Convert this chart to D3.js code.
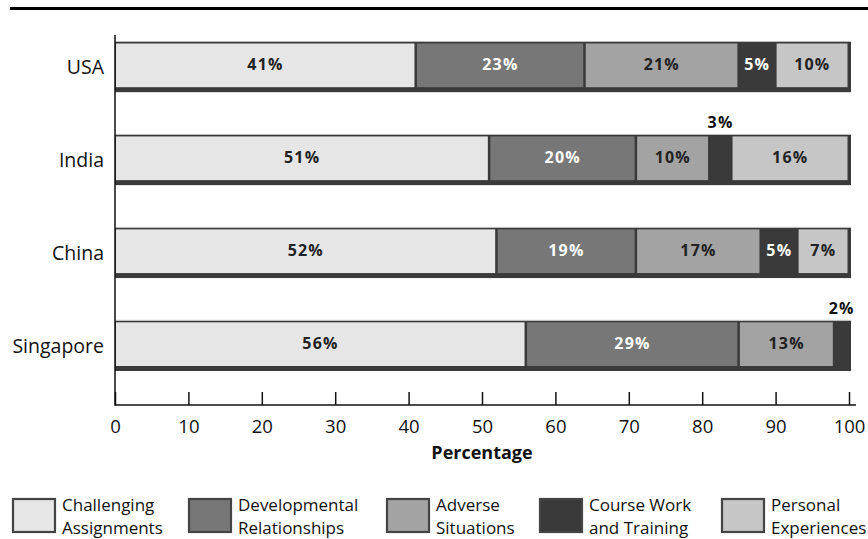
<!DOCTYPE html>
<html><head><meta charset="utf-8">
<script src="https://cdn.jsdelivr.net/npm/d3@7"></script>
<style>
html,body{margin:0;padding:0;background:#fff;}
svg{display:block;font-family:"Open Sans",sans-serif;}
</style></head>
<body><svg id="c" width="868" height="539"></svg>
<script>
const countries = ["USA","India","China","Singapore"];
const seriesNames = ["Challenging Assignments","Developmental Relationships","Adverse Situations","Course Work and Training","Personal Experiences"];
const legendLines = [["Challenging","Assignments"],["Developmental","Relationships"],["Adverse","Situations"],["Course Work","and Training"],["Personal","Experiences"]];
const challenging   = [41,51,52,56];
const developmental = [23,20,19,29];
const adverse       = [21,10,17,13];
const courseWork    = [5,3,5,2];
const personal      = [10,16,7,0];
const xTicks = [0,10,20,30,40,50,60,70,80,90,100];
const xTitle = "Percentage";

const colors = ["#e6e6e6","#777777","#a3a3a3","#3a3a3a","#c6c6c6"];
const labelColors = ["#222","#fff","#222","#fff","#222"];
const dark = "#3a3a3a";

const svg = d3.select("#c");
const x = d3.scaleLinear().domain([0,100]).range([115,849]);
const y = d3.scaleBand().domain(countries).range([42,371]).paddingInner(0.46).paddingOuter(0);
const bh = y.bandwidth();

// top rule
svg.append("rect").attr("x",10).attr("y",7).attr("width",858).attr("height",3).attr("fill","#000");

const rows = countries.map((c,i)=>{
  const vals=[challenging[i],developmental[i],adverse[i],courseWork[i],personal[i]];
  let s=0; const segs=vals.map((v,k)=>{const o={k,v,s}; s+=v; return o;});
  return {c,segs,total:s};
});

const g = svg.append("g");
rows.forEach(r=>{
  const top=y(r.c);
  const segs = r.segs.filter(d=>d.v>0);
  const end = segs[segs.length-1];
  const w = x(end.s+end.v)-x(0)+2;
  g.append("rect").attr("x",x(0)).attr("y",top).attr("width",w).attr("height",bh).attr("fill",dark);
  g.append("rect").attr("x",x(0)).attr("y",top-1).attr("width",w).attr("height",1).attr("fill","#bbb");
  segs.forEach(d=>{
    g.append("rect").attr("x",x(d.s)+1).attr("y",top+1.5).attr("width",Math.max(0,x(d.s+d.v)-x(d.s)-2.5))
      .attr("height",bh-6.5).attr("fill",colors[d.k]);
    const small = d.v<4;
    g.append("text").attr("x",x(d.s+d.v/2)).attr("y", small? top-7 : top+bh/2+3)
      .attr("text-anchor","middle").attr("font-weight","bold").attr("font-size",16)
      .attr("letter-spacing","1.2").attr("fill", small? "#111" : labelColors[d.k]).text(d.v+"%");
  });
});

// axes
const axisY = 405;
svg.append("line").attr("x1",x(0)).attr("x2",x(0)).attr("y1",35).attr("y2",axisY+0.75)
  .attr("stroke","#111").attr("stroke-width",1.5);
svg.append("line").attr("x1",x(0)).attr("x2",856).attr("y1",axisY).attr("y2",axisY)
  .attr("stroke","#111").attr("stroke-width",1.5);
const xa = svg.append("g").attr("transform",`translate(0,${axisY})`)
  .call(d3.axisBottom(x).tickValues(xTicks).tickSize(0).tickPadding(0));
xa.select(".domain").remove();
xa.selectAll(".tick line").attr("y1",0).attr("y2",-13).attr("stroke","#111").attr("stroke-width",1.5);
xa.selectAll(".tick text").attr("dy",null).attr("y",28).attr("font-size",18.5)
  .attr("font-family","Open Sans, sans-serif").attr("fill","#111");

svg.append("text").attr("x",x(50)).attr("y",459).attr("text-anchor","middle")
  .attr("font-weight","bold").attr("font-size",18).attr("fill","#111").text(xTitle);

// y labels
countries.forEach(c=>{
  svg.append("text").attr("x",104).attr("y",y(c)+bh/2+2).attr("text-anchor","end")
    .attr("dominant-baseline","middle").attr("font-size",19.5).attr("fill","#111").text(c);
});

// legend
const legX = [12,188,386,539,721];
const lg = svg.append("g");
seriesNames.forEach((n,i)=>{
  lg.append("rect").attr("x",legX[i]+1).attr("y",499).attr("width",42).attr("height",33)
    .attr("fill",colors[i]).attr("stroke","#444").attr("stroke-width",2.2);
  legendLines[i].forEach((ln,j)=>{
    lg.append("text").attr("x",legX[i]+50).attr("y",510.5+j*23.3)
      .attr("font-size",17).attr("fill","#111").text(ln);
  });
});
</script></body></html>
